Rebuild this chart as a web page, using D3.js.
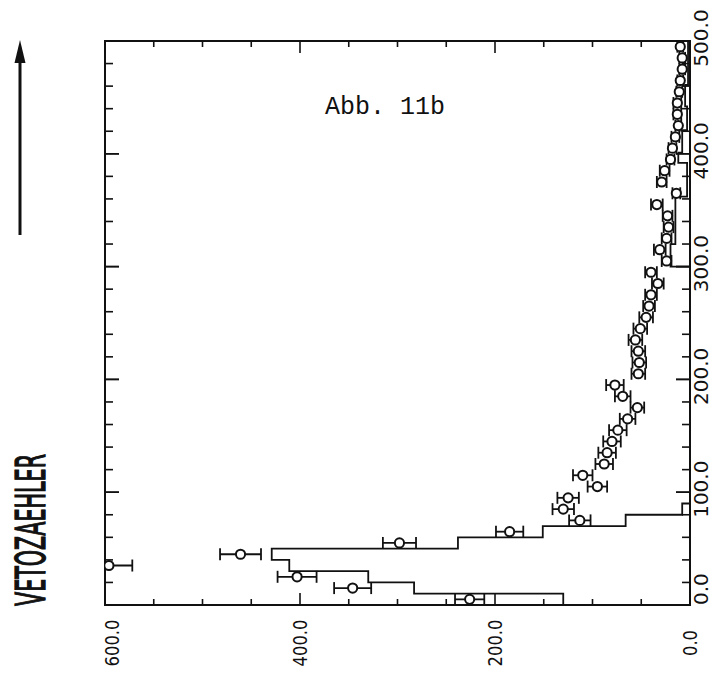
<!DOCTYPE html>
<html>
<head>
<meta charset="utf-8">
<script src="https://cdn.jsdelivr.net/npm/d3@7"></script>
<style>
  html, body { margin: 0; padding: 0; background: #fff; }
  svg { display: block; }
</style>
</head>
<body>
<svg id="chart" width="714" height="675"></svg>
<script>
// Vetozaehler bin centres of the measured points
const vetoBins = [5, 15, 25, 35, 45, 55, 65, 75, 85, 95,
  105, 115, 125, 135, 145, 155, 165, 175, 185, 195,
  205, 215, 225, 235, 245, 255, 265, 275, 285, 295,
  305, 315, 325, 335, 345, 355, 365, 375, 385, 395,
  405, 415, 425, 435, 445, 455, 465, 475, 485, 495];
// Measured counts per bin
const counts = [226, 346, 403, 596, 461, 298, 185, 113, 130, 125,
  95, 110, 88, 85, 80, 74, 64, 54, 69, 77,
  53, 52, 53, 56, 51, 45, 42, 40, 33, 40,
  24, 31, 24, 22, 23, 34, 14, 29, 26, 20,
  18, 15, 12, 13, 13, 11, 10, 8, 8, 10];
// Half-widths of the horizontal error bars
const countErr = [15, 19, 20, 24, 21, 17, 14, 11, 11, 11,
  10, 10, 9, 9, 9, 9, 8, 7, 8, 9,
  7, 7, 7, 7, 7, 7, 6, 6, 6, 6,
  5, 6, 5, 5, 5, 6, 4, 5, 5, 4,
  4, 4, 3, 4, 4, 3, 3, 3, 3, 3];

// Step histogram: bin edges along the vetozaehler axis and the count in each bin
const histEdges = [0, 10, 20, 30, 40, 50, 60, 70, 80, 90, 300, 320, 362, 392, 401, 421, 442, 461, 500];
const histCounts = [130, 283, 330, 411, 429, 238, 151, 66, 8, 0, 20, 15, 3, 12, 8, 3, 5, 2];

// Axis ticks
const countTicks = [600, 400, 200, 0];
const countMinorStep = 50;
const vetoTicks = [0, 100, 200, 300, 400, 500];
const vetoMinorStep = 20;

const svg = d3.select("#chart");
const frame = { left: 105, right: 690, top: 41, bottom: 605 };

// Counts run right-to-left along the bottom, vetozaehler bottom-to-top on the right
const x = d3.scaleLinear().domain([600, 0]).range([frame.left, frame.right]);
const y = d3.scaleLinear().domain([0, 500]).range([frame.bottom, frame.top]);
const fmt = d3.format(".1f");

svg.append("defs").append("clipPath").attr("id", "plotClip")
  .append("rect")
  .attr("x", frame.left).attr("y", frame.top)
  .attr("width", frame.right - frame.left).attr("height", frame.bottom - frame.top);

const ink = "#111";

// Frame
svg.append("rect")
  .attr("x", frame.left).attr("y", frame.top)
  .attr("width", frame.right - frame.left).attr("height", frame.bottom - frame.top)
  .attr("fill", "none").attr("stroke", ink).attr("stroke-width", 2);

// Ticks on the count axis (bottom and top, pointing inward)
const countTickVals = d3.range(0, 601, countMinorStep);
const tickG = svg.append("g").attr("stroke", ink).attr("stroke-width", 1.6);
countTickVals.forEach(v => {
  const len = countTicks.includes(v) ? 12 : 6;
  tickG.append("line").attr("x1", x(v)).attr("x2", x(v))
    .attr("y1", frame.bottom).attr("y2", frame.bottom - len);
  tickG.append("line").attr("x1", x(v)).attr("x2", x(v))
    .attr("y1", frame.top).attr("y2", frame.top + len);
});
// Ticks on the vetozaehler axis (right and left, pointing inward)
const vetoTickVals = d3.range(0, 501, vetoMinorStep).concat(vetoTicks);
vetoTickVals.forEach(v => {
  const len = vetoTicks.includes(v) ? 14 : 8;
  tickG.append("line").attr("y1", y(v)).attr("y2", y(v))
    .attr("x1", frame.right).attr("x2", frame.right - len);
  tickG.append("line").attr("y1", y(v)).attr("y2", y(v))
    .attr("x1", frame.left).attr("x2", frame.left + len);
});

// Count axis labels, rotated to read upward and slightly condensed
const labelFont = "'DejaVu Sans', 'Liberation Sans', sans-serif";
countTicks.forEach(v => {
  const bx = Math.max(x(v) + 7, frame.left + 14);
  const t = svg.append("text")
    .attr("transform", `translate(${bx},643) rotate(-90)`)
    .attr("text-anchor", "middle")
    .attr("font-family", labelFont).attr("font-size", 20)
    .attr("fill", ink)
    .text(fmt(v));
  const len = t.node().getComputedTextLength();
  t.attr("textLength", len * 0.82).attr("lengthAdjust", "spacingAndGlyphs");
});

// Vetozaehler axis labels on the right
vetoTicks.forEach(v => {
  const t = svg.append("text")
    .attr("text-anchor", "middle")
    .attr("font-family", labelFont).attr("font-size", 20)
    .attr("fill", ink)
    .text(fmt(v));
  const len = t.node().getComputedTextLength();
  const cy = Math.min(y(v) - 3, frame.bottom - len / 2);
  t.attr("transform", `translate(708,${cy}) rotate(-90)`);
});

// Data layer clipped to the frame
const plot = svg.append("g").attr("clip-path", "url(#plotClip)");

// Step histogram
const stepPts = [[x(0), y(histEdges[0])]];
histCounts.forEach((c, i) => {
  stepPts.push([x(c), y(histEdges[i])]);
  stepPts.push([x(c), y(histEdges[i + 1])]);
});
plot.append("path")
  .attr("d", d3.line()(stepPts))
  .attr("fill", "none").attr("stroke", ink).attr("stroke-width", 1.8);

// Measured points with horizontal error bars
const pts = vetoBins.map((v, i) => ({ v, c: counts[i], e: countErr[i] }));
const eb = plot.append("g").attr("stroke", ink).attr("stroke-width", 1.8);
pts.forEach(d => {
  const yy = y(d.v);
  eb.append("line").attr("x1", x(d.c - d.e)).attr("x2", x(d.c + d.e))
    .attr("y1", yy).attr("y2", yy);
  [d.c - d.e, d.c + d.e].forEach(cv => {
    eb.append("line").attr("x1", x(cv)).attr("x2", x(cv))
      .attr("y1", yy - 6).attr("y2", yy + 6);
  });
});
plot.append("g").selectAll("circle").data(pts).join("circle")
  .attr("cx", d => x(d.c)).attr("cy", d => y(d.v)).attr("r", 4.6)
  .attr("fill", "#fff").attr("stroke", ink).attr("stroke-width", 2);

// Figure caption inside the frame
svg.append("text")
  .attr("x", 325).attr("y", 114)
  .attr("font-family", "'Courier New', Courier, 'Liberation Mono', monospace")
  .attr("font-size", 25).attr("fill", ink)
  .text("Abb. 11b");

// Axis title and direction arrow on the left
svg.append("text")
  .attr("transform", "translate(45,530) rotate(-90)")
  .attr("text-anchor", "middle")
  .attr("font-family", "'Liberation Sans Narrow', 'DejaVu Sans Condensed', 'Liberation Sans', sans-serif")
  .attr("font-size", 41)
  .attr("textLength", 152).attr("lengthAdjust", "spacingAndGlyphs")
  .attr("fill", ink).attr("stroke", ink).attr("stroke-width", 1.3)
  .text("VETOZAEHLER");

svg.append("line")
  .attr("x1", 20).attr("x2", 20).attr("y1", 235).attr("y2", 58)
  .attr("stroke", ink).attr("stroke-width", 3);
svg.append("path")
  .attr("d", "M20,40 L14.5,63 L25.5,63 Z")
  .attr("fill", ink);
</script>
</body>
</html>
